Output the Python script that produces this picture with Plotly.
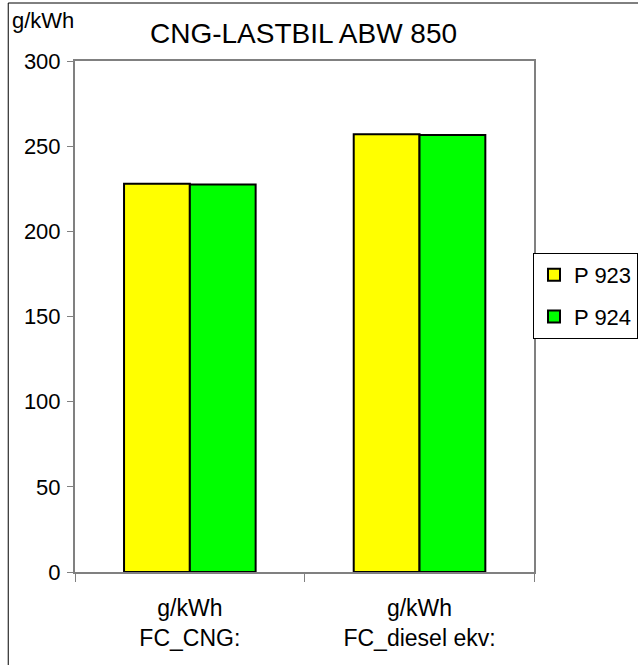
import plotly.graph_objects as go

categories = ["g/kWh<br>FC_CNG:", "g/kWh<br>FC_diesel ekv:"]
p923 = [228, 257]
p924 = [227.5, 256.5]
y_ticks = [0, 50, 100, 150, 200, 250, 300]

FONT = "Liberation Sans, Arial, sans-serif"

fig = go.Figure()
fig.add_trace(go.Bar(name="P 923", x=categories, y=p923, marker=dict(color="#FFFF00", line=dict(color="black", width=2)), legendgroup="a"))
fig.add_trace(go.Bar(name="P 924", x=categories, y=p924, marker=dict(color="#00FF00", line=dict(color="black", width=2)), legendgroup="b"))

W, H = 638, 665
L, R, T, B = 75, 0, 61, 93
plot_right = 536
pw, ph = W - L - R, H - T - B

def px2paper_x(px):
    return (px - L) / pw

def px2paper_y(py):
    return (H - B - py) / ph

fig.update_layout(
    width=W, height=H,
    margin=dict(l=L, r=R, t=T, b=B, pad=0),
    paper_bgcolor="white", plot_bgcolor="white",
    barmode="group", bargap=0.427, bargroupgap=0,
    font=dict(family=FONT, size=22, color="black"),
    showlegend=True,
    legend=dict(x=px2paper_x(535), y=px2paper_y(253), xanchor="left", yanchor="top",
                bordercolor="black", borderwidth=1, bgcolor="white",
                font=dict(size=22), tracegroupgap=10, itemwidth=30),
    xaxis=dict(domain=[0, px2paper_x(plot_right)], showline=True, linecolor="#808080", linewidth=2, mirror=True,
               ticks="outside", tickson="boundaries", ticklen=8, tickcolor="#808080",
               showgrid=False, tickfont=dict(size=23), ticklabelstandoff=14),
    yaxis=dict(range=[0, 300], tickvals=y_ticks, showline=True, linecolor="#808080", linewidth=2,
               mirror=True, ticks="outside", ticklen=6, tickcolor="#808080",
               showgrid=False, zeroline=False, tickfont=dict(size=22), ticklabelstandoff=2),
    annotations=[
        dict(text="CNG-LASTBIL ABW 850", xref="paper", yref="paper", x=px2paper_x(304), y=px2paper_y(33),
             xanchor="center", yanchor="middle", showarrow=False, font=dict(size=28)),
        dict(text="g/kWh", xref="paper", yref="paper", x=px2paper_x(10), y=px2paper_y(20),
             xanchor="left", yanchor="middle", showarrow=False, font=dict(size=22)),
    ],
    shapes=[
        dict(type="rect", xref="paper", yref="paper", x0=px2paper_x(8), x1=px2paper_x(700),
             y0=px2paper_y(720), y1=px2paper_y(3), line=dict(color="black", width=1), layer="below"),
    ],
)

fig.write_html("out.html")
